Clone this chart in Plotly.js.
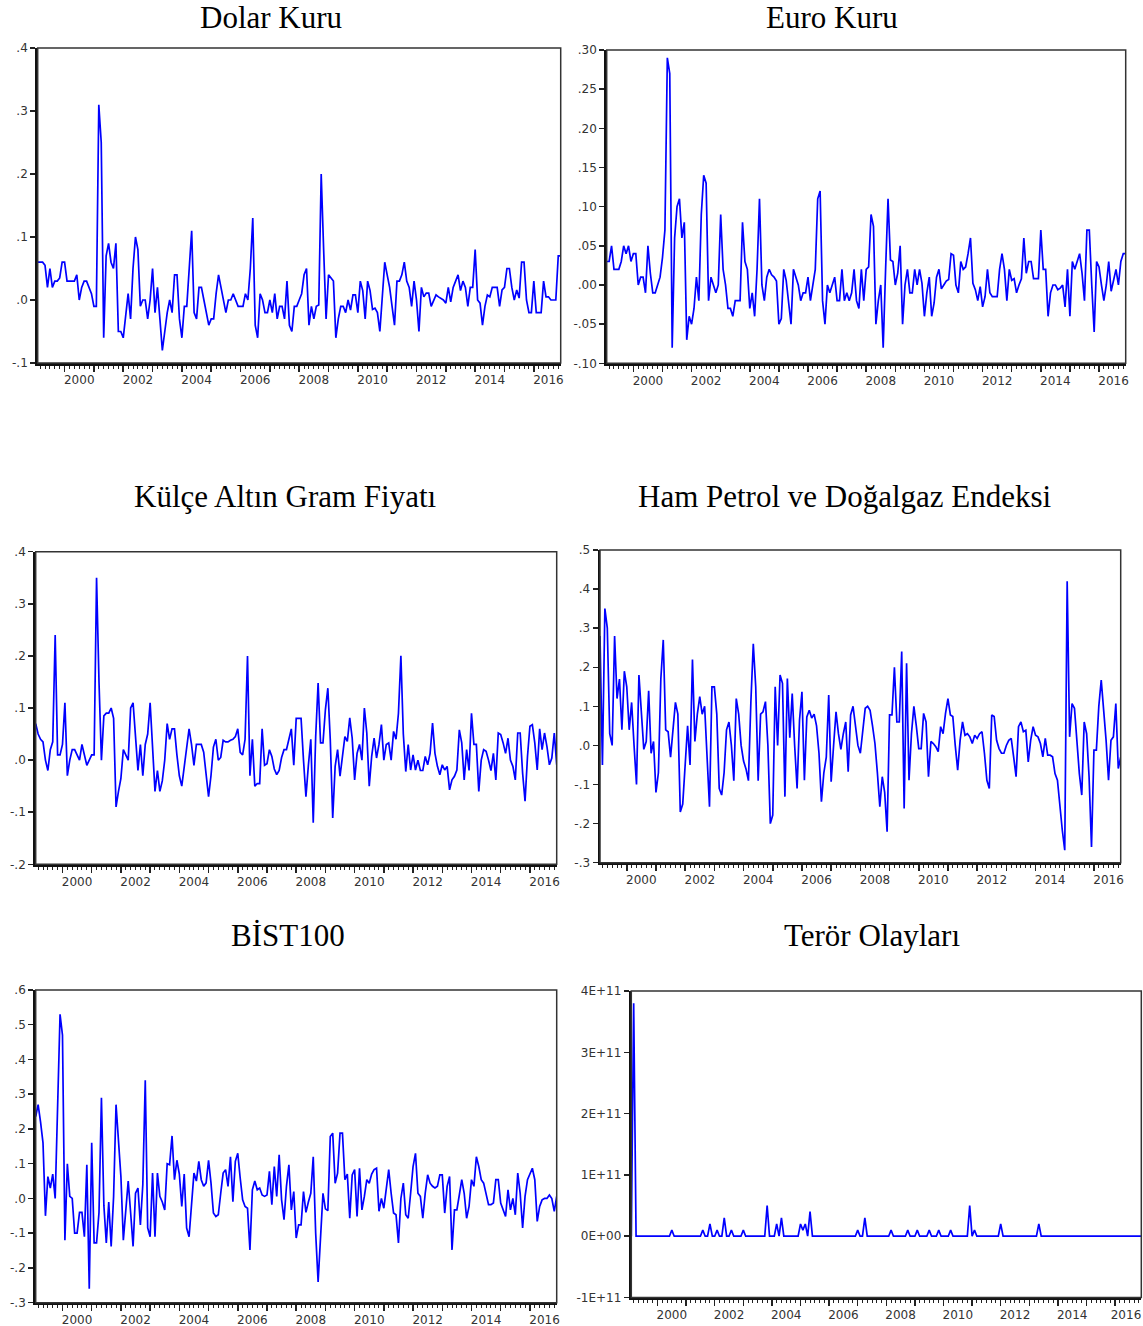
<!DOCTYPE html>
<html>
<head>
<meta charset="utf-8">
<script src="https://cdn.plot.ly/plotly-3.0.1.min.js"></script>
<style>html,body{margin:0;padding:0;background:#fff}#chart{width:1143px;height:1326px}</style>
</head>
<body>
<div id="chart"></div>
<script>
// Monthly observations, first observation 1999M02, last 2016M12
const startYear = 1999;
const startMonth = 2;

const yearTicks = [2000,2001,2002,2003,2004,2005,2006,2007,2008,2009,2010,2011,2012,2013,2014,2015,2016];
const labelYears = [2000,2002,2004,2006,2008,2010,2012,2014,2016];
const yearLabels = ["2000","2002","2004","2006","2008","2010","2012","2014","2016"];

const dolarKuru = [
 0.06,0.06,0.06,0.055,0.02,0.05,0.02,0.03,0.03,0.035,0.06,0.06,
 0.03,0.03,0.03,0.03,0.04,0.00,0.02,0.03,0.03,0.02,0.01,-0.01,
 -0.01,0.31,0.25,-0.06,0.07,0.09,0.06,0.05,0.09,-0.05,-0.05,-0.06,
 -0.02,0.01,-0.03,0.05,0.10,0.08,-0.01,0.00,0.00,-0.03,0.00,0.05,
 -0.02,0.02,-0.03,-0.08,-0.05,-0.02,0.00,-0.02,0.04,0.04,-0.03,-0.06,
 -0.01,-0.01,0.05,0.11,-0.02,-0.03,0.02,0.02,0.00,-0.02,-0.04,-0.03,
 -0.03,0.01,0.04,0.02,0.00,-0.02,0.00,0.00,0.01,0.00,-0.01,-0.01,
 -0.01,0.01,0.00,0.05,0.13,-0.04,-0.06,0.01,0.00,-0.02,-0.02,0.00,
 -0.02,0.01,-0.03,-0.01,-0.01,-0.03,0.03,-0.04,-0.05,-0.01,-0.01,0.00,
 0.01,0.04,0.05,-0.04,-0.01,-0.03,-0.01,-0.008,0.20,0.08,-0.03,0.04,
 0.035,0.03,-0.06,-0.03,-0.01,-0.01,-0.02,0.00,-0.016,0.008,0.008,-0.02,
 0.03,0.015,-0.03,0.03,0.015,-0.015,-0.013,-0.02,-0.05,0.00,0.06,0.04,
 0.02,-0.01,-0.04,0.03,0.03,0.04,0.06,0.03,0.02,-0.01,0.03,0.00,
 -0.05,0.02,0.005,0.011,0.011,-0.01,0.00,0.008,0.005,0.003,0.00,-0.005,
 0.02,-0.003,0.02,0.03,0.04,0.015,0.03,0.02,-0.01,0.02,0.02,0.08,
 0.00,-0.005,-0.04,-0.01,0.008,0.005,0.02,0.02,0.02,-0.01,0.016,0.02,
 0.05,0.05,0.02,0.00,0.016,0.003,0.06,0.06,0.00,-0.02,-0.02,0.03,
 -0.02,-0.02,-0.02,0.03,0.005,0.005,0.00,0.00,0.00,0.07,0.07
];

const euroKuru = [
 0.03,0.03,0.05,0.02,0.02,0.02,0.03,0.05,0.04,0.05,0.03,0.04,
 0.04,0.00,0.01,0.01,-0.01,0.05,0.015,-0.01,-0.01,0.00,0.01,0.035,
 0.07,0.29,0.27,-0.08,0.06,0.10,0.11,0.06,0.08,-0.07,-0.04,-0.05,
 -0.03,0.01,-0.02,0.09,0.14,0.13,-0.02,0.01,0.00,-0.01,0.00,0.09,
 0.02,0.00,-0.03,-0.03,-0.04,-0.02,-0.02,-0.02,0.08,0.03,0.02,-0.03,
 -0.01,-0.04,0.02,0.11,0.00,-0.02,0.01,0.02,0.013,0.01,0.005,-0.05,
 -0.043,0.02,0.006,-0.02,-0.05,0.02,0.01,0.00,-0.02,-0.01,-0.01,0.01,
 -0.02,0.00,0.02,0.11,0.12,-0.02,-0.05,0.00,-0.01,0.00,0.01,-0.02,
 -0.02,0.02,-0.02,-0.01,-0.02,-0.01,0.02,-0.02,-0.03,0.02,-0.02,0.02,
 0.023,0.09,0.075,-0.05,-0.02,0.00,-0.08,0.02,0.11,0.032,0.03,0.00,
 0.015,0.05,-0.05,0.00,0.02,-0.01,-0.01,0.02,0.00,0.02,0.002,-0.04,
 -0.01,0.01,-0.04,-0.023,0.01,0.02,-0.005,0.00,0.005,0.007,0.04,0.038,
 0.00,-0.01,0.03,0.02,0.023,0.04,0.06,0.002,-0.006,-0.02,-0.002,-0.028,
 -0.015,0.02,-0.01,-0.015,-0.015,-0.015,0.02,0.04,0.02,-0.02,0.02,0.006,
 0.008,-0.01,0.00,0.008,0.06,0.015,0.03,0.03,0.008,0.008,0.008,0.07,
 0.02,0.02,-0.04,-0.01,0.00,0.00,-0.006,-0.004,0.00,-0.028,0.02,-0.04,
 0.03,0.02,0.03,0.04,0.015,-0.02,0.07,0.07,0.00,-0.06,0.03,0.023,
 0.00,-0.02,0.00,0.03,-0.008,0.006,0.02,0.00,0.03,0.04,0.04
];

const kulceAltin = [
 0.07,0.05,0.04,0.035,0.00,-0.02,0.02,0.035,0.24,0.01,0.01,0.03,
 0.11,-0.03,0.00,0.02,0.02,0.01,0.00,0.03,0.01,-0.01,0.00,0.01,
 0.01,0.35,0.15,0.00,0.085,0.09,0.09,0.10,0.08,-0.09,-0.06,-0.035,
 0.02,0.01,0.00,0.10,0.11,0.045,-0.02,0.03,-0.03,0.03,0.05,0.11,
 0.03,-0.06,-0.02,-0.06,-0.04,0.00,0.07,0.04,0.06,0.06,0.01,-0.03,
 -0.05,-0.01,0.026,0.06,0.03,-0.01,0.03,0.03,0.03,0.015,-0.025,-0.07,
 -0.03,0.025,0.04,0.00,0.005,0.038,0.035,0.035,0.038,0.04,0.045,0.06,
 0.015,0.01,0.04,0.20,-0.03,0.04,-0.05,-0.045,-0.045,0.06,-0.01,-0.007,
 0.02,0.007,-0.017,-0.028,-0.02,0.005,0.02,0.02,0.04,0.06,-0.01,0.08,
 0.08,0.08,0.00,-0.07,-0.01,0.04,-0.12,0.045,0.148,0.033,0.033,0.097,
 0.138,0.039,-0.111,-0.012,0.02,-0.031,0.007,0.045,0.036,0.081,0.042,-0.038,
 0.013,0.03,0.00,0.10,0.052,-0.05,0.007,0.042,0.004,0.03,0.068,0.00,
 0.03,0.033,0.00,0.055,0.04,0.09,0.20,0.05,-0.022,0.03,-0.019,0.01,
 -0.019,0.00,-0.02,-0.02,0.007,-0.009,0.013,0.071,0.013,-0.012,-0.028,-0.009,
 -0.019,-0.012,-0.057,-0.038,-0.031,-0.019,0.058,0.033,-0.038,0.02,-0.02,0.09,
 0.03,0.03,-0.06,0.00,0.02,0.017,0.00,-0.02,0.013,-0.038,0.052,0.049,
 0.033,0.013,0.042,0.00,-0.012,-0.038,0.052,0.052,-0.025,-0.079,0.007,0.065,
 0.068,0.033,-0.019,0.06,0.02,0.052,0.026,-0.009,0.004,0.052,-0.009
];

const hamPetrol = [
 0.28,-0.05,0.35,0.30,0.03,0.00,0.28,0.12,0.17,0.04,0.19,0.15,
 0.04,0.11,0.00,-0.10,0.18,0.08,-0.01,0.01,0.14,-0.02,0.01,-0.12,
 -0.07,0.17,0.27,0.04,0.035,-0.03,0.05,0.11,0.08,-0.17,-0.15,-0.05,
 0.05,-0.05,0.22,0.01,0.08,0.125,0.08,0.10,-0.03,-0.157,0.15,0.15,
 0.08,-0.11,-0.127,-0.07,0.04,0.06,0.00,-0.09,0.12,0.08,0.00,-0.04,
 -0.06,-0.09,0.11,0.26,0.15,-0.09,0.08,0.086,0.112,0.00,-0.20,-0.178,
 0.15,0.00,0.18,0.159,-0.131,0.171,0.02,0.133,0.00,-0.11,0.065,0.137,
 -0.089,0.073,0.09,0.07,0.08,0.05,-0.02,-0.144,-0.07,-0.03,0.129,-0.093,
 0.00,0.086,0.03,-0.01,0.03,0.06,-0.067,0.078,0.10,0.05,0.00,-0.02,
 0.04,0.095,0.10,0.09,0.05,0.005,-0.07,-0.157,-0.08,-0.12,-0.221,0.078,
 0.078,0.20,0.06,0.06,0.24,-0.161,0.21,-0.089,0.03,0.10,0.05,-0.008,
 -0.008,0.082,0.06,-0.08,0.01,0.005,-0.003,-0.016,0.048,0.03,0.082,0.12,
 0.078,0.074,0.00,-0.063,0.013,0.06,0.026,0.03,0.022,0.005,0.026,0.018,
 0.03,0.035,-0.02,-0.089,-0.11,0.078,0.074,0.013,-0.008,-0.02,-0.02,0.00,
 0.013,0.018,-0.029,-0.08,0.048,0.06,0.035,0.039,-0.042,0.013,0.048,0.026,
 0.022,0.005,-0.029,0.018,-0.025,-0.025,-0.029,-0.072,-0.089,-0.157,-0.217,-0.268,
 0.42,0.022,0.107,0.095,0.013,-0.072,-0.127,0.06,0.03,-0.08,-0.26,-0.012,
 -0.012,0.10,0.167,0.09,0.013,-0.089,0.013,0.022,0.107,-0.059,-0.03
];

const bist100 = [
 0.236,0.27,0.22,0.16,-0.05,0.063,0.03,0.07,0.00,0.25,0.53,0.47,
 -0.12,0.10,0.006,0.00,-0.10,-0.10,-0.04,-0.04,-0.11,0.097,-0.26,0.16,
 -0.128,-0.128,-0.04,0.29,-0.02,-0.128,-0.01,-0.138,0.006,0.27,0.175,0.063,
 -0.12,-0.042,0.05,-0.042,-0.138,0.015,0.03,-0.076,0.04,0.34,-0.085,-0.11,
 0.073,-0.11,0.073,0.006,-0.01,-0.033,0.10,0.097,0.18,0.054,0.11,0.07,
 -0.023,0.07,-0.085,-0.11,-0.004,0.073,0.05,0.107,0.054,0.035,0.045,0.11,
 0.045,-0.042,-0.052,-0.047,0.015,0.073,0.083,0.035,0.12,-0.009,0.107,0.13,
 0.059,-0.004,-0.023,-0.028,-0.148,0.025,0.05,0.025,0.03,0.01,0.006,0.01,
 0.078,-0.018,0.092,0.006,0.126,-0.004,-0.061,0.035,0.097,-0.033,0.02,-0.114,
 -0.076,-0.076,0.02,-0.04,-0.01,0.015,0.12,-0.10,-0.24,-0.10,0.015,-0.03,
 -0.035,0.178,0.188,0.044,0.073,0.188,0.188,0.054,0.07,-0.057,0.068,0.083,
 -0.052,0.087,-0.033,0.006,0.054,0.044,0.07,0.083,0.087,-0.037,0.00,-0.028,
 0.035,0.083,0.015,-0.042,-0.047,-0.128,0.00,0.044,-0.047,-0.057,0.015,0.092,
 0.13,0.015,0.006,-0.057,0.015,0.068,0.044,0.035,0.03,0.035,0.068,0.068,
 -0.042,0.035,0.063,-0.148,-0.033,-0.033,0.01,0.054,0.015,-0.057,-0.023,0.054,
 0.035,0.12,0.092,0.054,0.044,0.015,-0.018,-0.018,-0.013,0.054,0.054,-0.013,
 -0.033,-0.052,0.025,-0.033,0.00,-0.047,0.073,0.015,-0.085,0.006,0.054,0.073,
 0.087,0.054,-0.066,-0.023,-0.004,0.00,0.00,0.01,0.00,-0.037,0.006
];

const terorOlaylari = [
 0,3.8e11,0,0,0,0,0,0,0,0,0,0,
 0,0,0,0,0,1e10,0,0,0,0,0,0,
 0,0,0,0,0,0,1e10,0,0,2e10,0,0,
 1e10,0,0,3e10,0,0,1e10,0,0,0,0,1e10,
 0,0,0,0,0,0,0,0,0,5e10,0,0,
 0,2e10,0,3e10,0,0,0,0,0,0,0,2e10,
 1e10,2e10,0,4e10,0,0,0,0,0,0,0,0,
 0,0,0,0,0,0,0,0,0,0,0,1e10,
 0,0,3e10,0,0,0,0,0,0,0,0,0,
 0,1e10,0,0,0,0,0,0,1e10,0,0,0,
 1e10,0,0,0,0,1e10,0,0,0,1e10,0,0,
 0,0,1e10,0,0,0,0,0,0,0,5e10,0,
 1e10,0,0,0,0,0,0,0,0,0,0,2e10,
 0,0,0,0,0,0,0,0,0,0,0,0,
 0,0,0,2e10,0,0,0,0,0,0,0,0,
 0,0,0,0,0,0,0,0,0,0,0,0,
 0,0,0,0,0,0,0,0,0,0,0,0,
 0,0,0,0,0,0,0,0,0,0,0
];

const dolarTicks = [-0.1,0,0.1,0.2,0.3,0.4];
const dolarTickText = ["-.1",".0",".1",".2",".3",".4"];
const euroTicks = [-0.10,-0.05,0,0.05,0.10,0.15,0.20,0.25,0.30];
const euroTickText = ["-.10","-.05",".00",".05",".10",".15",".20",".25",".30"];
const kulceTicks = [-0.2,-0.1,0,0.1,0.2,0.3,0.4];
const kulceTickText = ["-.2","-.1",".0",".1",".2",".3",".4"];
const petrolTicks = [-0.3,-0.2,-0.1,0,0.1,0.2,0.3,0.4,0.5];
const petrolTickText = ["-.3","-.2","-.1",".0",".1",".2",".3",".4",".5"];
const bistTicks = [-0.3,-0.2,-0.1,0,0.1,0.2,0.3,0.4,0.5,0.6];
const bistTickText = ["-.3","-.2","-.1",".0",".1",".2",".3",".4",".5",".6"];
const terorTicks = [-1e11,0,1e11,2e11,3e11,4e11];
const terorTickText = ["-1E+11","0E+00","1E+11","2E+11","3E+11","4E+11"];

const W = 1143, H = 1326;
// box: [left, right, top, bottom] in px; t: title centre [x, y] in px
const panels = [
  {title:"Dolar Kuru", data:dolarKuru, yRange:[-0.1,0.4], tv:dolarTicks, tt:dolarTickText, box:[37.7,560.7,48,363], t:[270.5,18]},
  {title:"Euro Kuru", data:euroKuru, yRange:[-0.10,0.30], tv:euroTicks, tt:euroTickText, box:[606.7,1125.7,50,363.3], t:[832,18]},
  {title:"Külçe Altın Gram Fiyatı", data:kulceAltin, yRange:[-0.2,0.4], tv:kulceTicks, tt:kulceTickText, box:[35.7,556.7,551.7,864.3], t:[285,496]},
  {title:"Ham Petrol ve Doğalgaz Endeksi", data:hamPetrol, yRange:[-0.3,0.5], tv:petrolTicks, tt:petrolTickText, box:[600,1120.7,550,862.7], t:[844.5,496]},
  {title:"BİST100", data:bist100, yRange:[-0.3,0.6], tv:bistTicks, tt:bistTickText, box:[35.7,556.7,990,1302.7], t:[288,935]},
  {title:"Terör Olayları", data:terorOlaylari, yRange:[-1e11,4e11], tv:terorTicks, tt:terorTickText, box:[631.3,1141.3,991,1297.5], t:[872,935]}
];

const tickFont = {family:"DejaVu Sans, Arial, sans-serif", size:12, color:"#333"};
const traces = [];
const layout = {
  width:W, height:H, margin:{l:0,r:0,t:0,b:0},
  paper_bgcolor:"#fff", plot_bgcolor:"#fff", showlegend:false,
  annotations:[], shapes:[]
};

panels.forEach((p,k)=>{
  const n = k+1;
  const sfx = n===1 ? "" : String(n);
  const xr = "x"+sfx, yr = "y"+sfx;
  const lx = "x"+(n+6);               // overlay axis carrying the centred year labels
  const xs = p.data.map((_,j)=> startYear + (startMonth-1+j)/12);
  const x0 = xs[0], x1 = xs[xs.length-1];
  const pxPerYear = (p.box[1]-p.box[0])/(x1-x0);
  // centre each label in its year, but keep it inside the page
  const labelPos = labelYears.map(y=>{
    const c = p.box[0] + (y+0.5-x0)*pxPerYear;
    const over = c + 16 - (W-1);
    return over > 0 ? y+0.5-over/pxPerYear : y+0.5;
  });
  traces.push({x:xs, y:p.data, type:"scatter", mode:"lines",
    line:{color:"#0000ff", width:1.7}, xaxis:xr, yaxis:yr, hoverinfo:"skip"});
  // invisible helper so the label axis is built
  traces.push({x:[x0,x1], y:[p.yRange[0],p.yRange[0]], type:"scatter", mode:"lines",
    line:{width:0, color:"rgba(0,0,0,0)"}, xaxis:lx, yaxis:yr, hoverinfo:"skip", showlegend:false});
  layout["xaxis"+sfx] = {
    domain:[p.box[0]/W, p.box[1]/W], anchor:yr, range:[x0,x1],
    tickmode:"array", tickvals:yearTicks, showticklabels:false,
    ticks:"outside", ticklen:6, tickwidth:1.5, tickcolor:"#222",
    showline:true, linewidth:2.5, linecolor:"#111",
    showgrid:false, zeroline:false, fixedrange:true,
    minor:{tickmode:"linear", tick0:1999, dtick:1/6, ticks:"outside", ticklen:3, tickwidth:1, tickcolor:"#222", showgrid:false}
  };
  layout["xaxis"+(n+6)] = {
    overlaying:xr, anchor:yr, side:"bottom", range:[x0,x1],
    tickmode:"array", tickvals:labelPos, ticktext:yearLabels,
    ticks:"outside", ticklen:6, tickcolor:"rgba(0,0,0,0)", tickfont:tickFont,
    ticklabeloverflow:"allow",
    showline:false, showgrid:false, zeroline:false, fixedrange:true
  };
  layout["yaxis"+sfx] = {
    domain:[1-p.box[3]/H, 1-p.box[2]/H], anchor:xr, range:p.yRange,
    tickmode:"array", tickvals:p.tv, ticktext:p.tt,
    ticks:"outside", ticklen:5, tickwidth:1.5, tickcolor:"#222",
    tickfont:tickFont,
    showline:true, linewidth:2.5, linecolor:"#111",
    showgrid:false, zeroline:false, fixedrange:true
  };
  layout.shapes.push({type:"rect", xref:xr+" domain", yref:yr+" domain", x0:0, x1:1, y0:0, y1:1,
    line:{color:"#333", width:1.5}, layer:"above"});
  layout.annotations.push({text:p.title, xref:"paper", yref:"paper",
    x:p.t[0]/W, y:1-p.t[1]/H, xanchor:"center", yanchor:"middle", showarrow:false,
    font:{family:"Liberation Serif, Times New Roman, serif", size:31, color:"#000"}});
});

Plotly.newPlot("chart", traces, layout, {displayModeBar:false, staticPlot:true});
</script>
</body>
</html>
